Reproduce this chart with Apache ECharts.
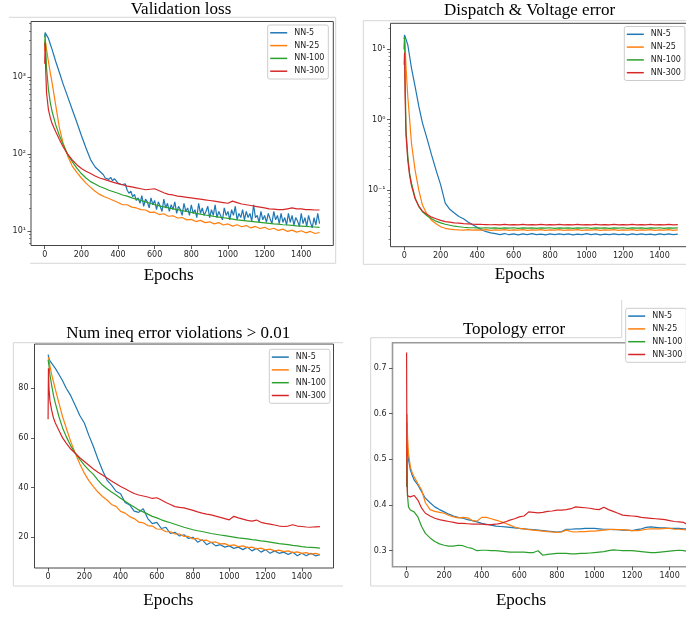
<!DOCTYPE html>
<html>
<head>
<meta charset="utf-8">
<script src="https://cdn.jsdelivr.net/npm/echarts@6/dist/echarts.min.js"></script>
<style>
html,body{margin:0;padding:0;background:#fff}
#chart{width:686px;height:617px}
</style>
</head>
<body>
<div id="chart"></div>
<script>
var seriesNames = ['NN-5', 'NN-25', 'NN-100', 'NN-300'];
var lineColors = ['#1f77b4', '#ff7f0e', '#2ca02c', '#d62728'];
var panelTitles = ['Validation loss', 'Dispatch & Voltage error', 'Num ineq error violations > 0.01', 'Topology error'];
var epochTicks = [0, 200, 400, 600, 800, 1000, 1200, 1400];
var ineqTicks = [20, 40, 60, 80];
var topoTicks = [0.3, 0.4, 0.5, 0.6, 0.7];
var lossMajorTicks = [10, 100, 1000];
var dispMajorTicks = [0.1, 1, 10];
var lossMinorTicks = [7, 8, 9, 20, 30, 40, 50, 60, 70, 80, 90, 200, 300, 400, 500, 600, 700, 800, 900, 2000, 3000, 4000, 5000];
var dispMinorTicks = [0.02, 0.03, 0.04, 0.05, 0.06, 0.07, 0.08, 0.09, 0.2, 0.3, 0.4, 0.5, 0.6, 0.7, 0.8, 0.9, 2, 3, 4, 5, 6, 7, 8, 9, 20];

var epochs = [0, 2, 5, 10, 20, 30, 40, 60, 80,
  100, 125, 150, 175, 200, 225, 250, 275, 300,
  325, 350, 375, 400, 425, 450, 475, 500,
  525, 550, 575, 600, 625, 650, 675, 700,
  725, 750, 775, 800, 825, 850, 875, 900,
  925, 950, 975, 1000, 1025, 1050, 1075, 1100,
  1125, 1150, 1175, 1200, 1225, 1250, 1275, 1300,
  1325, 1350, 1375, 1400, 1425, 1450, 1475, 1500];

// NN-5 validation loss is very noisy, so it is read at a finer step
var lossNN5Epochs = [0, 2, 5, 10, 20, 30, 40, 60, 80,
  100, 125, 150, 175, 200, 225, 250, 275, 300,
  310, 320, 330, 340, 350, 360, 370, 380, 390, 400,
  410, 420, 430, 440, 450, 460, 470, 480, 490, 500,
  510, 520, 530, 540, 550, 560, 570, 580, 590, 600,
  610, 620, 630, 640, 650, 660, 670, 680, 690, 700,
  710, 720, 730, 740, 750, 760, 770, 780, 790, 800,
  810, 820, 830, 840, 850, 860, 870, 880, 890, 900,
  910, 920, 930, 940, 950, 960, 970, 980, 990, 1000,
  1010, 1020, 1030, 1040, 1050, 1060, 1070, 1080, 1090, 1100,
  1110, 1120, 1130, 1140, 1150, 1160, 1170, 1180, 1190, 1200,
  1210, 1220, 1230, 1240, 1250, 1260, 1270, 1280, 1290, 1300,
  1310, 1320, 1330, 1340, 1350, 1360, 1370, 1380, 1390, 1400,
  1410, 1420, 1430, 1440, 1450, 1460, 1470, 1480, 1490, 1500];

// Validation loss
var lossNN5 = [3300, 3800, 4000, 3700, 3200, 2700, 2300, 1600, 1150,
  820, 560, 380, 260, 175, 120, 85, 68, 60,
  57, 54, 49, 52, 47, 50, 45, 48, 46, 42,
  44, 40, 38, 41, 34, 31, 33, 28, 30, 25,
  27, 23, 29, 21, 26, 24, 20, 27, 22, 25,
  19, 24, 21, 18, 26, 20, 23, 18, 22, 19,
  24, 17, 21, 19, 16, 23, 18, 20, 16, 22,
  17, 19, 15, 23, 17, 20, 16, 18, 21, 15,
  19, 16, 22, 15, 18, 17, 14, 20, 16, 18,
  14, 19, 16, 21, 14, 17, 15, 19, 14, 18,
  15, 17, 13.5, 22, 15, 16, 13, 18, 14, 16,
  13, 17, 14.5, 12.5, 18, 14, 16, 12.5, 17, 13,
  15, 12, 17, 13, 16, 12, 15, 13.5, 11.5, 17,
  12.5, 15, 11.5, 16, 13, 11, 15, 12, 17, 12.5];
var lossNN25 = [2200, 3000, 2800, 2300, 1600, 1150, 850, 430, 220,
  140, 95, 70, 58, 49, 42, 37, 33, 30,
  28, 26.5, 25, 23.5, 22, 22, 20.5, 20,
  19, 18.8, 17.5, 17.6, 16.4, 16.8, 15.6, 15.8,
  14.8, 15, 14, 14.2, 13.3, 13.8, 12.9, 13.2,
  12.4, 12.9, 12, 12.4, 11.6, 12.1, 11.4, 11.8,
  11, 11.5, 10.8, 11.2, 10.5, 10.9, 10.2, 10.6,
  9.9, 10.3, 9.7, 10.1, 9.5, 9.9, 9.3, 9.6];
var lossNN100 = [2500, 3600, 2400, 1300, 700, 470, 360, 240, 175,
  135, 100, 80, 66, 56, 49, 44, 41, 38,
  36, 34, 32.5, 31, 29.5, 28.5, 27, 26,
  25, 24, 23, 22, 21.3, 20.7, 20, 19.5,
  19, 18.5, 18, 17.5, 17, 16.6, 16.2, 15.9,
  15.5, 15.2, 14.9, 14.6, 14.3, 14, 13.8, 13.6,
  13.4, 13.2, 13, 12.8, 12.6, 12.4, 12.3, 12.1,
  12, 11.9, 11.7, 11.6, 11.5, 11.4, 11.3, 11.2];
var lossNN300 = [1500, 2800, 1300, 620, 380, 300, 250, 195, 155,
  125, 100, 84, 73, 65, 60, 56, 52, 49,
  47, 45, 43, 41.5, 40, 38.5, 37.5, 36.5,
  35.5, 34.5, 35, 35.5, 33.5, 31.5, 30, 29.5,
  28.5, 28, 27.5, 27, 26.5, 26, 25.5, 25,
  24.5, 24, 23.5, 23, 24.5, 23.5, 22.5, 22,
  21.5, 21, 20.5, 20, 19.5, 19.3, 19, 19,
  19.5, 20, 19.5, 19.5, 19, 19, 18.8, 18.8];

// Dispatch & Voltage error
var dispNN5 = [14, 16, 17, 15, 11.5, 7.9, 5.4, 2.95, 1.55,
  0.9, 0.54, 0.315, 0.19, 0.118, 0.065, 0.053, 0.047, 0.042,
  0.039, 0.035, 0.032, 0.0295, 0.027, 0.0255, 0.0245, 0.024,
  0.0232, 0.024, 0.0231, 0.0238, 0.023, 0.0237, 0.0232, 0.0239,
  0.0231, 0.0236, 0.023, 0.0238, 0.0232, 0.0237, 0.0231, 0.0238,
  0.023, 0.0236, 0.0232, 0.0239, 0.0231, 0.0237, 0.023, 0.0236,
  0.0232, 0.0238, 0.0231, 0.0236, 0.023, 0.0237, 0.0231, 0.0238,
  0.0232, 0.0236, 0.023, 0.0237, 0.0231, 0.0238, 0.0232, 0.0236];
var dispNN25 = [10, 14, 12, 5.6, 2.1, 1.0, 0.46, 0.19, 0.1,
  0.061, 0.045, 0.037, 0.033, 0.03, 0.0285, 0.0278, 0.0272, 0.027,
  0.0269, 0.0272, 0.0268, 0.0271, 0.0268, 0.0272, 0.0267, 0.0271,
  0.0268, 0.0272, 0.0267, 0.0271, 0.0268, 0.0272, 0.0267, 0.0271,
  0.0268, 0.0272, 0.0267, 0.0271, 0.0268, 0.0272, 0.0267, 0.0271,
  0.0268, 0.0272, 0.0267, 0.0271, 0.0268, 0.0272, 0.0267, 0.0271,
  0.0268, 0.0272, 0.0267, 0.0271, 0.0268, 0.0272, 0.0267, 0.0271,
  0.0268, 0.0272, 0.0267, 0.0271, 0.0268, 0.0272, 0.0267, 0.0271];
var dispNN100 = [10, 15, 4, 0.71, 0.3, 0.17, 0.125, 0.077, 0.058,
  0.049, 0.043, 0.039, 0.036, 0.034, 0.0325, 0.0315, 0.0305, 0.03,
  0.0295, 0.0292, 0.029, 0.0289, 0.0287, 0.029, 0.0286, 0.0289,
  0.0285, 0.0289, 0.0286, 0.029, 0.0285, 0.0289, 0.0286, 0.0289,
  0.0285, 0.0289, 0.0286, 0.029, 0.0285, 0.0289, 0.0286, 0.0289,
  0.0285, 0.0289, 0.0286, 0.029, 0.0285, 0.0289, 0.0286, 0.0289,
  0.0285, 0.0289, 0.0286, 0.029, 0.0285, 0.0289, 0.0286, 0.0289,
  0.0285, 0.0289, 0.0286, 0.029, 0.0285, 0.0289, 0.0286, 0.0289];
var dispNN300 = [6, 9, 2.2, 0.6, 0.26, 0.16, 0.115, 0.075, 0.059,
  0.05, 0.045, 0.041, 0.039, 0.037, 0.0355, 0.0348, 0.034, 0.0337,
  0.0333, 0.033, 0.0327, 0.0325, 0.0323, 0.0322, 0.032, 0.0322,
  0.0318, 0.0323, 0.0319, 0.0322, 0.0318, 0.0323, 0.0319, 0.0322,
  0.0318, 0.0323, 0.0319, 0.0322, 0.0318, 0.0323, 0.0319, 0.0322,
  0.0318, 0.0323, 0.0319, 0.0322, 0.0318, 0.0323, 0.0319, 0.0322,
  0.0318, 0.0323, 0.0319, 0.0322, 0.0318, 0.0323, 0.0319, 0.0322,
  0.0318, 0.0323, 0.0319, 0.0322, 0.0318, 0.0323, 0.0319, 0.0322];

// Num ineq error violations > 0.01
var ineqNN5 = [93.5, 93, 92, 91, 90, 89, 88, 85.5, 83,
  80, 77, 73, 69, 66, 61, 56.5, 51.5, 47,
  43, 41, 38.5, 37.5, 34, 33, 30.5, 30,
  31.5, 27.5, 25.5, 26, 23.5, 24, 21.5, 22,
  20.5, 21, 19.5, 20, 18, 19, 17, 18,
  16.5, 17, 16, 16.5, 15.5, 16, 15, 16,
  14.5, 15.5, 14, 15, 13.5, 14.5, 13.5, 14,
  13, 14, 12.5, 13.5, 12.5, 13.5, 12.5, 13];
var ineqNN25 = [92.5, 93, 91.5, 89, 85.5, 82.5, 79.5, 74, 68.5,
  64, 58.5, 53.8, 49.5, 45.8, 42.8, 40.4, 38.2, 36.4,
  35, 33.2, 32.4, 30.4, 29.7, 28.3, 27.5, 26.1,
  25.8, 24.7, 24.5, 23.3, 23.2, 22.2, 22.2, 21.3,
  21.3, 20.3, 20.3, 19.3, 19.5, 18.7, 18.8, 17.9,
  18.1, 17.3, 17.4, 16.6, 16.9, 16.2, 16.5, 15.8,
  16, 15.3, 15.6, 14.9, 15.2, 14.5, 14.8, 14.2,
  14.5, 13.8, 14.1, 13.5, 13.8, 13.2, 13.5, 13];
var ineqNN100 = [91.5, 91, 89, 85.5, 81, 77, 74, 68.5, 64,
  60.5, 56.8, 53.8, 51.3, 49, 47, 45.3, 43, 41,
  39.5, 38.2, 37, 35.7, 34.5, 33.3, 32.2, 31,
  30.2, 29.3, 28.4, 27.8, 27, 26.4, 25.8, 25.2,
  24.6, 24, 23.5, 23, 22.6, 22.3, 21.9, 21.5,
  21.2, 20.9, 20.6, 20.3, 20, 19.7, 19.5, 19.3,
  19, 18.8, 18.5, 18.3, 18, 17.7, 17.4, 17.2,
  17, 16.7, 16.5, 16.2, 16, 15.9, 15.8, 15.6];
var ineqNN300 = [67.5, 88, 80, 75, 71, 68, 66, 63, 60,
  57.9, 55.5, 53.8, 52, 50.5, 49, 47.5, 46.2, 45,
  43.8, 42.6, 41.5, 40.4, 39.5, 38.5, 37.6, 37,
  36.6, 36.2, 35.6, 35.9, 35, 34, 33.2, 32.3,
  32, 31.8, 31.3, 30.8, 30.2, 29.7, 29.3, 29,
  28.5, 28, 27.5, 27, 28.4, 27.8, 27.3, 26.8,
  26.5, 26.9, 26, 25.6, 25.3, 24.9, 24.5, 24.3,
  24.5, 25, 24.5, 24.3, 24.1, 24, 24.2, 24.3];

// Topology error
var topoNN5 = [0.44, 0.58, 0.52, 0.5, 0.477, 0.465, 0.455, 0.444, 0.429,
  0.415, 0.405, 0.396, 0.39, 0.385, 0.38, 0.376, 0.373, 0.371,
  0.368, 0.366, 0.363, 0.36, 0.358, 0.356, 0.354, 0.353,
  0.352, 0.351, 0.35, 0.349, 0.348, 0.347, 0.346, 0.345,
  0.344, 0.343, 0.342, 0.341, 0.342, 0.347, 0.347, 0.348,
  0.348, 0.349, 0.349, 0.349, 0.348, 0.347, 0.347, 0.346,
  0.346, 0.345, 0.345, 0.344, 0.346, 0.348, 0.351, 0.352,
  0.351, 0.35, 0.35, 0.349, 0.349, 0.349, 0.348, 0.348];
var topoNN25 = [0.45, 0.6, 0.55, 0.513, 0.484, 0.47, 0.462, 0.447, 0.433,
  0.405, 0.39, 0.386, 0.384, 0.382, 0.377, 0.374, 0.372, 0.373,
  0.372, 0.366, 0.365, 0.373, 0.373, 0.37, 0.367, 0.364,
  0.36, 0.356, 0.352, 0.349, 0.348, 0.346, 0.345, 0.344,
  0.343, 0.342, 0.341, 0.34, 0.341, 0.345, 0.342, 0.341,
  0.342, 0.342, 0.343, 0.343, 0.344, 0.345, 0.346, 0.347,
  0.346, 0.346, 0.345, 0.344, 0.344, 0.345, 0.347, 0.348,
  0.348, 0.348, 0.349, 0.349, 0.347, 0.347, 0.346, 0.345];
var topoNN100 = [0.44, 0.5, 0.42, 0.396, 0.389, 0.386, 0.385, 0.374, 0.353,
  0.338, 0.328, 0.32, 0.315, 0.312, 0.31, 0.31, 0.312, 0.311,
  0.307, 0.305, 0.3, 0.301, 0.301, 0.3, 0.3, 0.299,
  0.298, 0.297, 0.297, 0.297, 0.297, 0.296, 0.296, 0.3,
  0.29, 0.292, 0.293, 0.294, 0.294, 0.294, 0.293, 0.293,
  0.294, 0.294, 0.295, 0.296, 0.297, 0.298, 0.3, 0.302,
  0.301, 0.3, 0.3, 0.3, 0.299, 0.298, 0.297, 0.296,
  0.296, 0.297, 0.298, 0.299, 0.3, 0.301, 0.3, 0.298];
var topoNN300 = [0.734, 0.45, 0.42, 0.417, 0.418, 0.42, 0.421, 0.411, 0.393,
  0.382, 0.376, 0.371, 0.368, 0.366, 0.364, 0.362, 0.36, 0.36,
  0.359, 0.358, 0.358, 0.358, 0.357, 0.357, 0.358, 0.36,
  0.363, 0.367, 0.37, 0.374, 0.376, 0.385, 0.384, 0.383,
  0.384, 0.386, 0.387, 0.389, 0.389, 0.39, 0.392, 0.396,
  0.395, 0.394, 0.393, 0.391, 0.39, 0.395, 0.39, 0.386,
  0.382, 0.378, 0.377, 0.376, 0.375, 0.373, 0.372, 0.371,
  0.37, 0.369, 0.368, 0.366, 0.364, 0.363, 0.362, 0.356];

var SUP = {'0': '\u2070', '1': '\u00b9', '2': '\u00b2', '3': '\u00b3', '-': '\u207b'};
function powLabel(e) {
  var r = Math.round(e);
  return '10' + String(r).split('').map(function (c) { return SUP[c] || c; }).join('');
}
function log10List(list) { return list.map(function (v) { return Math.log10(v); }); }

var panels = [
  {grid: {left: 31, top: 21.5, width: 302.3, height: 224}, yType: 'log', yMin: 6.5, yMax: 5300,
    major: lossMajorTicks, minor: lossMinorTicks,
    rows: [lossNN5, lossNN25, lossNN100, lossNN300], xs: [lossNN5Epochs, epochs, epochs, epochs],
    border: '#444', borderWidth: 1, legend: [267.7, 25]},
  {grid: {left: 390.5, top: 23.3, width: 301, height: 223.4}, yType: 'log', yMin: 0.0156, yMax: 23.4,
    major: dispMajorTicks, minor: dispMinorTicks,
    rows: [dispNN5, dispNN25, dispNN100, dispNN300], xs: [epochs, epochs, epochs, epochs],
    border: '#444', borderWidth: 1, legend: [624.3, 26.5]},
  {grid: {left: 34.5, top: 344, width: 299, height: 224}, yType: 'value', yMin: 7.6, yMax: 97.8,
    ticks: ineqTicks, rows: [ineqNN5, ineqNN25, ineqNN100, ineqNN300], xs: [epochs, epochs, epochs, epochs],
    border: '#444', borderWidth: 1, legend: [269.3, 349.3]},
  {grid: {left: 392.5, top: 342.7, width: 310, height: 224}, yType: 'value', yMin: 0.265, yMax: 0.7554,
    ticks: topoTicks, rows: [topoNN5, topoNN25, topoNN100, topoNN300], xs: [epochs, epochs, epochs, epochs],
    border: '#999', borderWidth: 1.6, legend: [625.7, 308.3]}
];

var tickColor = '#333';
var labelFont = {fontSize: 8, fontFamily: 'DejaVu Sans', color: '#262626'};

var grids = [], xAxes = [], yAxes = [], series = [], legends = [];
panels.forEach(function (p, i) {
  grids.push(Object.assign({show: true, borderColor: p.border, borderWidth: p.borderWidth,
    outerBoundsMode: 'none', containLabel: false}, p.grid));
  xAxes.push({
    type: 'value', gridIndex: i, min: -75, max: 1575,
    axisLine: {show: false, onZero: false}, splitLine: {show: false},
    axisTick: {show: true, customValues: epochTicks, length: 3.5, lineStyle: {color: tickColor, width: 0.8}},
    axisLabel: Object.assign({customValues: epochTicks, margin: 5,
      formatter: function (v) { return String(v); }}, labelFont)
  });
  var yMain = {
    type: p.yType, gridIndex: i, min: p.yMin, max: p.yMax, position: 'left',
    axisLine: {show: false, onZero: false}, splitLine: {show: false},
    axisTick: {show: true, customValues: p.ticks, length: 3.5, lineStyle: {color: tickColor, width: 0.8}},
    axisLabel: Object.assign({customValues: p.ticks, margin: 6}, labelFont)
  };
  if (p.yType === 'log') {
    // the log axis carries the lines; its ticks are drawn by helper axes below
    yMain.axisTick = {show: false};
    yMain.axisLabel = {show: false};
  } else if (i === 3) {
    yMain.axisLabel.formatter = function (v) { return v.toFixed(1); };
  }
  yAxes.push(yMain);
  p.rows.forEach(function (row, k) {
    var xs = p.xs[k];
    series.push({
      type: 'line', name: seriesNames[k], xAxisIndex: i, yAxisIndex: i,
      data: xs.map(function (e, j) { return [e, row[j]]; }),
      showSymbol: false, symbol: 'none', clip: true,
      lineStyle: {width: 1.2, color: lineColors[k]},
      itemStyle: {color: lineColors[k]},
      emphasis: {disabled: true}
    });
  });
  legends.push({
    data: seriesNames, orient: 'vertical', left: p.legend[0], top: p.legend[1],
    icon: 'rect', itemWidth: 17, itemHeight: 1.5, itemGap: 2.8,
    padding: [2.8, 4, 2.8, 2.5], backgroundColor: '#fff',
    borderColor: '#cccccc', borderWidth: 1, borderRadius: 2, selectedMode: false,
    textStyle: {fontSize: 8, fontFamily: 'DejaVu Sans', color: '#222', lineHeight: 10, padding: [0, 0, 0, 2]}
  });
});

// decade ticks and labels, plus minor ticks, for the two log panels (axes in log10 units)
[0, 1].forEach(function (i) {
  var p = panels[i];
  var lo = Math.log10(p.yMin), hi = Math.log10(p.yMax);
  yAxes.push({
    type: 'value', gridIndex: i, min: lo, max: hi, position: 'left',
    axisLine: {show: false, onZero: false}, splitLine: {show: false},
    axisTick: {show: true, customValues: log10List(p.major), length: 3.5, lineStyle: {color: tickColor, width: 0.8}},
    axisLabel: Object.assign({customValues: log10List(p.major), margin: 5, formatter: powLabel}, labelFont)
  });
  yAxes.push({
    type: 'value', gridIndex: i, min: lo, max: hi, position: 'left',
    axisLine: {show: false, onZero: false}, splitLine: {show: false}, axisLabel: {show: false},
    axisTick: {show: true, customValues: log10List(p.minor), length: 2, lineStyle: {color: tickColor, width: 0.6}}
  });
});

var frameColor = '#d6d6d6';
var frameLines = [
  [9, 17.3, 335.7, 17.3], [335.7, 17.3, 335.7, 263.3], [30, 263.3, 335.7, 263.3],
  [363.3, 20.7, 686, 20.7], [363.3, 20.7, 363.3, 264.3], [363.3, 264.3, 686, 264.3],
  [13.3, 342.7, 343, 342.7], [13.3, 342.7, 13.3, 586], [13.3, 586, 343, 586],
  [370.7, 337.7, 621.7, 337.7], [621.7, 300, 621.7, 337.7], [370.7, 337.7, 370.7, 586], [370.7, 586, 686, 586]
];
var titlePos = [[181, 9.7], [529.6, 10.4], [178.3, 333.5], [514, 329.6]];
var epochPos = [[168.7, 275.5], [519.7, 275], [168.3, 600.5], [521, 600.5]];

var graphics = frameLines.map(function (l) {
  return {type: 'line', silent: true, z: 0, shape: {x1: l[0], y1: l[1], x2: l[2], y2: l[3]},
    style: {stroke: frameColor, lineWidth: 1}};
});
panelTitles.forEach(function (t, i) {
  graphics.push({type: 'text', silent: true, x: titlePos[i][0], y: titlePos[i][1],
    style: {text: t, fill: '#000', fontSize: 17, fontFamily: 'Liberation Serif', textAlign: 'center', textVerticalAlign: 'middle'}});
  graphics.push({type: 'text', silent: true, x: epochPos[i][0], y: epochPos[i][1],
    style: {text: 'Epochs', fill: '#000', fontSize: 17, fontFamily: 'Liberation Serif', textAlign: 'center', textVerticalAlign: 'middle'}});
});

var chart = echarts.init(document.getElementById('chart'), null, {renderer: 'canvas'});
chart.setOption({
  animation: false,
  backgroundColor: '#fff',
  textStyle: {fontFamily: 'DejaVu Sans'},
  grid: grids,
  xAxis: xAxes,
  yAxis: yAxes,
  legend: legends,
  graphic: graphics,
  series: series
});
</script>
</body>
</html>
